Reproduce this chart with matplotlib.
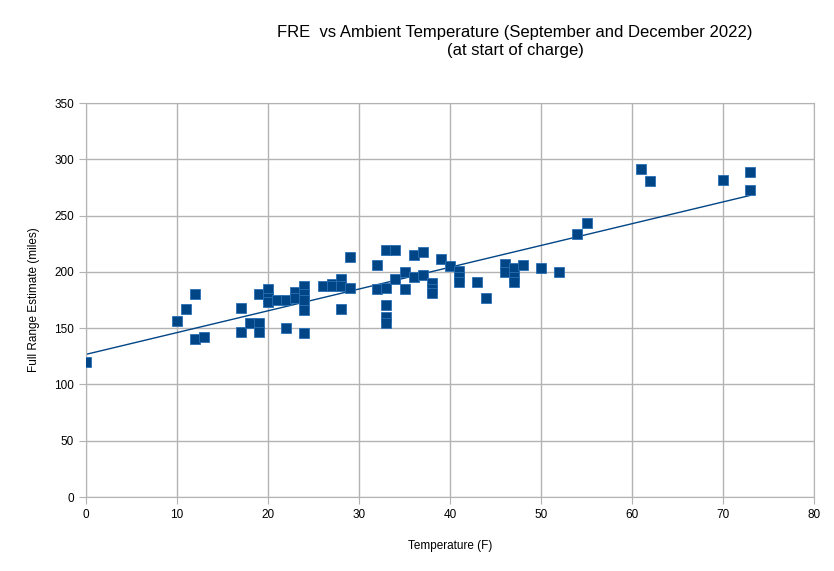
import numpy as np
import matplotlib
matplotlib.use("Agg")
import matplotlib.pyplot as plt

plt.rcParams['font.family'] = ['Liberation Sans', 'DejaVu Sans']

# temperature (F) and full range estimate (miles)
temp_f = [0, 10, 11, 12, 12, 13, 17, 17, 18, 19, 19, 19, 20, 20, 20,
          21, 22, 22, 23, 23, 24, 24, 24, 24, 24, 26, 27, 27, 28, 28, 28,
          29, 29, 32, 32, 33, 33, 33, 33, 33, 34, 34, 35, 35, 36, 36,
          37, 37, 38, 38, 38, 39, 40, 41, 41, 41, 43, 44, 46, 46,
          47, 47, 47, 48, 50, 52, 54, 55, 61, 62, 70, 73, 73]
fre_miles = [120, 156, 167, 180, 140, 142, 168, 147, 155, 180, 155, 147, 185, 177, 173,
             175, 175, 150, 182, 177, 187, 180, 175, 166, 146, 187, 189, 187, 194, 187, 167,
             213, 186, 206, 185, 219, 186, 171, 160, 155, 219, 194, 200, 185, 215, 195,
             218, 197, 190, 185, 181, 211, 205, 201, 195, 191, 191, 177, 207, 200,
             203, 195, 191, 206, 203, 200, 234, 243, 291, 281, 282, 289, 273]

x_ticks = [0, 10, 20, 30, 40, 50, 60, 70, 80]
y_ticks = [0, 50, 100, 150, 200, 250, 300, 350]

blue = '#004586'
grid_c = '#b3b3b3'

fig = plt.figure(figsize=(8.34, 5.71), dpi=100)
ax = fig.add_axes([86/834, 74/571, 728/834, 394/571])

ax.plot(temp_f, fre_miles, 's', color=blue, markersize=7,
        markeredgecolor='#2a6fb5', markeredgewidth=0.6, zorder=3)

# linear trend line
k, b = np.polyfit(temp_f, fre_miles, 1)
xs = np.array([min(temp_f), max(temp_f)])
ax.plot(xs, k * xs + b, color=blue, linewidth=1, zorder=2)

ax.set_xlim(0, 80)
ax.set_ylim(0, 350)
ax.set_xticks(x_ticks)
ax.set_yticks(y_ticks)
ax.grid(True, color=grid_c, linewidth=1)
ax.set_axisbelow(True)
for s in ax.spines.values():
    s.set_color(grid_c)
ax.tick_params(colors=grid_c, labelcolor='black', labelsize=8.5, length=5, direction='out')

ax.set_xlabel('Temperature (F)', fontsize=8.5, labelpad=14)
ax.set_ylabel('Full Range Estimate (miles)', fontsize=8.5, labelpad=10)

fig.text(515/834, 1 - 32/571, 'FRE  vs Ambient Temperature (September and December 2022)',
         ha='center', va='center', fontsize=12)
fig.text(515/834, 1 - 50/571, '(at start of charge)',
         ha='center', va='center', fontsize=12)

fig.savefig('out.png', dpi=100)
